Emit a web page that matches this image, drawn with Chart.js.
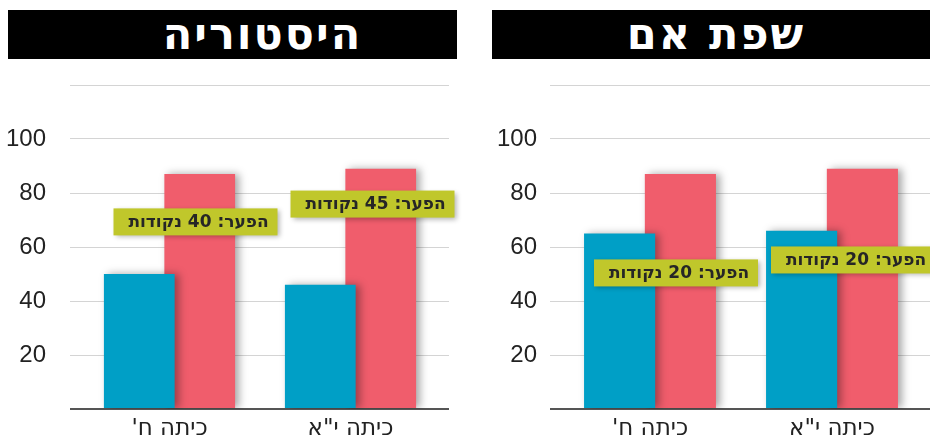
<!DOCTYPE html>
<html lang="he">
<head>
<meta charset="utf-8">
<script src="https://cdn.jsdelivr.net/npm/chart.js@4"></script>
<style>
  body { margin: 0; background: #fff; }
  #wrap { position: relative; width: 930px; height: 441px; background: #fff; overflow: hidden; }
  .title { position: absolute; top: 10px; height: 49px; background: #000; color: #fff;
    font: bold 43px "DejaVu Sans", "Liberation Sans", sans-serif; line-height: 49px; letter-spacing: 2px;
    text-align: center; direction: rtl; box-sizing: border-box; }
  .panel { position: absolute; top: 60px; width: 465px; height: 381px; }
</style>
</head>
<body>
<div id="wrap">
  <div class="title" style="left:8px;width:449px;padding-left:60px">היסטוריה</div>
  <div class="title" style="left:492px;width:438px;padding-left:10px">שפת אם</div>
  <div class="panel" style="left:0"><canvas id="chart-history"></canvas></div>
  <div class="panel" style="left:465px"><canvas id="chart-lang"></canvas></div>
</div>
<script>
// 데이터
const categories = ["כיתה ח'", 'כיתה י"א'];
const historyBlue = [50, 46];
const historyRed = [87, 89];
const langBlue = [65, 66];
const langRed = [87, 89];
const historyGaps = ['הפער: 40 נקודות', 'הפער: 45 נקודות'];
const langGaps = ['הפער: 20 נקודות', 'הפער: 20 נקודות'];

const BLUE = '#009fc6';
const RED = '#f05d6c';
const TAG = '#c0c72b';

// 막대 그림자 + 차이 라벨
const gapPlugin = {
  id: 'gapTags',
  beforeDatasetsDraw(chart) {
    const ctx = chart.ctx;
    ctx.save();
    ctx.shadowColor = 'rgba(0,0,0,0.35)';
    ctx.shadowBlur = 8;
    ctx.shadowOffsetX = 4;
  },
  afterDatasetsDraw(chart, args, opts) {
    const ctx = chart.ctx;
    ctx.restore();
    const x = chart.scales.x, y = chart.scales.y;
    opts.texts.forEach((t, i) => {
      const p = opts.pos[i];
      const cx = x.getPixelForValue(i) + p.dx;
      const cy = y.getPixelForValue(p.v);
      ctx.save();
      ctx.shadowColor = 'rgba(0,0,0,0.3)';
      ctx.shadowBlur = 5;
      ctx.shadowOffsetX = 2;
      ctx.shadowOffsetY = 2;
      ctx.fillStyle = TAG;
      ctx.fillRect(cx - 82, cy - 13.5, 164, 27);
      ctx.restore();
      ctx.save();
      ctx.fillStyle = '#262626';
      ctx.font = 'bold 17px "DejaVu Sans", "Liberation Sans", sans-serif';
      ctx.direction = 'rtl';
      ctx.textAlign = 'center';
      ctx.textBaseline = 'middle';
      ctx.fillText(t, cx + 3, cy + 1);
      ctx.restore();
    });
  }
};

const makePanel = (id, blue, red, gaps, pos, axisW, tickL, tickR, padRight, labelPad) => {
  const gridColor = c => c.tick && c.tick.value === 0 ? '#555' : '#d4d4d4';
  const gridWidth = c => c.tick && c.tick.value === 0 ? 2 : 1;
  return new Chart(document.getElementById(id), {
    type: 'bar',
    data: {
      labels: categories,
      datasets: [
        { data: blue, backgroundColor: BLUE, barPercentage: 1.17, categoryPercentage: 0.668 },
        { data: red, backgroundColor: RED, barPercentage: 1.17, categoryPercentage: 0.668 }
      ]
    },
    options: {
      responsive: true, maintainAspectRatio: false, animation: false,
      layout: { padding: { top: 25, right: padRight, bottom: 0, left: 0 } },
      plugins: { legend: { display: false }, tooltip: { enabled: false }, gapTags: { texts: gaps, pos } },
      scales: {
        x: {
          grid: { display: false }, border: { display: false },
          ticks: { color: '#222', padding: -2, maxRotation: 0,
            font: { family: '"DejaVu Sans", "Liberation Sans", sans-serif', size: 23 },
            callback: function (v) { return '\u200F' + this.getLabelForValue(v) + '\u200F'; } },
          afterFit: s => { s.height = 32; }
        },
        y: {
          min: 0, max: 120,
          border: { display: false },
          grid: { color: gridColor, lineWidth: gridWidth, tickLength: tickL, drawTicks: true },
          ticks: { stepSize: 20, color: '#222', padding: labelPad,
            font: { family: '"Liberation Sans", Arial, sans-serif', size: 24 },
            callback: v => (v === 0 || v === 120) ? '' : v },
          afterFit: s => { s.width = axisW; s.paddingTop = 0; s.paddingBottom = 0; }
        },
        y2: {
          position: 'right', min: 0, max: 120,
          border: { display: false },
          grid: { color: gridColor, lineWidth: gridWidth, tickLength: tickR, drawOnChartArea: false },
          ticks: { stepSize: 20, display: false },
          afterFit: s => { s.paddingTop = 0; s.paddingBottom = 0; }
        }
      }
    },
    plugins: [gapPlugin]
  });
};

makePanel('chart-history', historyBlue, historyRed, historyGaps,
  [{ dx: 26, v: 69.3 }, { dx: 22, v: 75.9 }], 79, 9, 8, 16, 24);
makePanel('chart-lang', langBlue, langRed, langGaps,
  [{ dx: 26, v: 50.4 }, { dx: 21, v: 55.2 }], 94, 9, 7, 0, 13);
</script>
</body>
</html>
